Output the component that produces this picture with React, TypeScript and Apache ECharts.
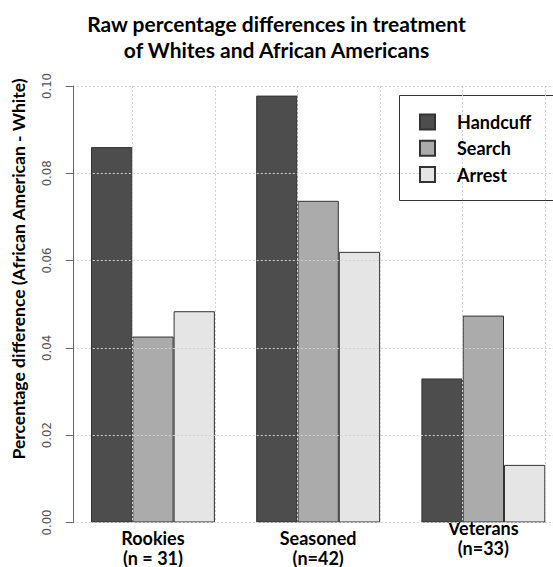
import React, { useEffect, useRef } from "react";
import * as echarts from "echarts";

const categories = ["Rookies\n(n = 31)", "Seasoned\n(n=42)", "Veterans\n(n=33)"];
const seriesNames = ["Handcuff", "Search", "Arrest"];
const handcuff = [0.086, 0.0978, 0.033];
const search = [0.0426, 0.0737, 0.0474];
const arrest = [0.0484, 0.062, 0.0132];
const yMin = 0;
const yMax = 0.1;
const yStep = 0.02;
const colors = ["#4d4d4d", "#ababab", "#e5e5e5"];

const BOLD_FONT = "Lato, 'Noto Sans', sans-serif";

export default function App() {
  const ref = useRef<HTMLDivElement>(null);
  useEffect(() => {
    if (!ref.current) return;
    const chart = echarts.init(ref.current, null, { renderer: "svg" });
    const values = [handcuff, search, arrest];
    const gridTop = 86;
    const gridHeight = 436.5;
    const unit = 41.3;
    const option: any = {
      animation: false,
      backgroundColor: "#ffffff",
      title: {
        text: "Raw percentage differences in treatment\nof Whites and African Americans",
        left: "center",
        top: 5,
        textStyle: {
          fontFamily: BOLD_FONT,
          fontWeight: "bold",
          fontSize: 21,
          lineHeight: 26,
          color: "#000",
        },
      },
      legend: {
        orient: "vertical",
        left: 400,
        top: 95,
        z: 10,
        padding: [18, 10, 18, 19],
        itemWidth: 15,
        itemHeight: 15,
        itemGap: 8.3,
        icon: "rect",
        data: seriesNames,
        textStyle: {
          fontFamily: BOLD_FONT,
          fontWeight: "bold",
          fontSize: 18,
          lineHeight: 18,
          color: "#000",
          padding: [0, 0, 0, 17],
        },
      },
      grid: [
        { left: 70.35, width: unit * 12, top: gridTop, height: gridHeight, outerBoundsMode: "none" },
        { left: 72.8, width: unit * 11.88, top: gridTop, height: gridHeight, outerBoundsMode: "none" },
        { left: 49.7, width: unit * 12.5, top: gridTop, height: gridHeight, outerBoundsMode: "none" },
      ],
      xAxis: [
        {
          type: "category",
          gridIndex: 0,
          data: categories.map((c, i) =>
            i === 2 ? { value: c, textStyle: { padding: [-10, 0, 0, 0] } } : c
          ),
          axisLine: { show: false },
          axisTick: { show: false },
          splitLine: { show: false },
          axisLabel: {
            margin: 5,
            fontFamily: BOLD_FONT,
            fontWeight: "bold",
            fontSize: 18,
            lineHeight: 20,
            color: "#000",
          },
        },
        {
          type: "value",
          gridIndex: 1,
          min: 0,
          max: 1,
          show: false,
        },
        {
          type: "value",
          gridIndex: 2,
          min: 0,
          max: 12.5,
          interval: 2,
          z: 5,
          axisLine: { show: false },
          axisTick: { show: false },
          axisLabel: { show: false },
          splitLine: {
            show: true,
            showMinLine: false,
            showMaxLine: false,
            lineStyle: { color: "#d0d0d0", type: [2, 2], width: 1 },
          },
        },
      ],
      yAxis: [
        {
          type: "value",
          gridIndex: 0,
          min: yMin,
          max: yMax,
          show: false,
        },
        {
          type: "value",
          gridIndex: 1,
          min: yMin,
          max: yMax,
          interval: yStep,
          z: 5,
          axisLine: { show: true, lineStyle: { color: "#666", width: 1 } },
          axisTick: { show: true, length: 7, lineStyle: { color: "#666" } },
          axisLabel: {
            rotate: 90,
            margin: 20,
            fontFamily: "'Liberation Sans Narrow', 'DejaVu Sans Condensed', sans-serif",
            fontSize: 13,
            color: "#555",
            formatter: (v: number) => v.toFixed(2),
          },
          splitLine: {
            show: true,
            lineStyle: { color: "#d0d0d0", type: [2, 2], width: 1 },
          },
        },
        {
          type: "value",
          gridIndex: 2,
          min: 0,
          max: 1,
          show: false,
        },
      ],
      series: seriesNames.map((name, i) => ({
        name,
        type: "bar",
        xAxisIndex: 0,
        yAxisIndex: 0,
        data: values[i],
        barWidth: unit,
        barGap: "0%",
        z: 2,
        itemStyle: { color: colors[i], borderColor: "#333", borderWidth: 1 },
      })),
      graphic: [
        {
          type: "rect",
          z: 1,
          shape: { x: 399.5, y: 95.5, width: 200, height: 105 },
          style: { fill: "#ffffff", stroke: "#333", lineWidth: 1 },
        },
        {
          type: "text",
          x: 18,
          y: 269,
          rotation: Math.PI / 2,
          style: {
            text: "Percentage difference (African American - White)",
            fontFamily: BOLD_FONT,
            fontWeight: "bold",
            fontSize: 17.5,
            fill: "#000",
            align: "center",
            verticalAlign: "middle",
          },
        },
      ],
    };
    chart.setOption(option);
    return () => chart.dispose();
  }, []);
  return (
    <div
      ref={ref}
      style={{ position: "absolute", left: 0, top: 0, width: 553, height: 567 }}
    />
  );
}
